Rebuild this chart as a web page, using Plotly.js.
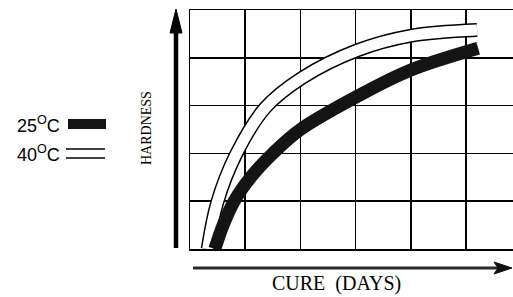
<!DOCTYPE html>
<html><head><meta charset="utf-8">
<script src="https://cdn.plot.ly/plotly-3.0.1.min.js"></script>
<style>html,body{margin:0;padding:0;background:#fff}#chart{width:513px;height:297px}</style>
</head><body><div id="chart"></div>
<script>
// Data (x = cure in grid units, y = hardness in grid units)
const cureDays40 = [0.32, 0.49, 0.83, 1.36, 2.03, 3.04, 3.99, 5.20];
const hardness40 = [0.00, 0.96, 1.97, 2.95, 3.58, 4.16, 4.46, 4.58];
const cureDays25 = [0.45, 0.60, 0.80, 1.10, 1.50, 2.00, 3.04, 3.99, 5.22];
const hardness25 = [0.00, 0.50, 1.00, 1.50, 2.00, 2.50, 3.20, 3.74, 4.20];
const seriesNames = ['25<sup>O</sup>C', '40<sup>O</sup>C'];
const xTitle = 'CURE\u00A0 (DAYS)';
const yTitle = 'HARDNESS';

// layout helpers (pixel -> paper)
const L = 190, T = 10, W = 323, H = 239;
const px = p => (p - L) / W;
const py = p => (T + H - p) / H;
const pth = pts => 'M' + pts.map(p => px(p[0]) + ',' + py(p[1])).join(' L') + ' Z';

const traces = [
  {x: cureDays40, y: hardness40, mode: 'lines', line: {color: '#000', width: 14, shape: 'spline', smoothing: 1}, hoverinfo: 'skip', showlegend: false},
  {x: cureDays40, y: hardness40, mode: 'lines', line: {color: '#fff', width: 11, shape: 'spline', smoothing: 1}, name: '40°C', showlegend: false},
  {x: cureDays25, y: hardness25, mode: 'lines', line: {color: '#141414', width: 13, shape: 'spline', smoothing: 1}, name: '25°C', showlegend: false}
];

const serif = 'Liberation Serif, Times New Roman, serif';
const layout = {
  width: 513, height: 297,
  margin: {l: L, r: 0, t: T, b: 297 - T - H},
  paper_bgcolor: '#fff', plot_bgcolor: '#fff',
  showlegend: false,
  xaxis: {range: [0, W / 55.2], dtick: 1, tick0: 0, showticklabels: false, ticks: '',
          showgrid: true, gridcolor: '#000', gridwidth: 1.5, zeroline: false,
          showline: true, linecolor: '#000', linewidth: 1.5, mirror: true, fixedrange: true},
  yaxis: {range: [0, 5], dtick: 1, tick0: 0, showticklabels: false, ticks: '',
          showgrid: true, gridcolor: '#000', gridwidth: 1.5, zeroline: false,
          showline: true, linecolor: '#000', linewidth: 1.5, mirror: false, fixedrange: true},
  annotations: [
    {xref: 'paper', yref: 'paper', x: px(336), y: py(283), xanchor: 'center', yanchor: 'middle', showarrow: false,
     text: xTitle, font: {family: serif, size: 20, color: '#000'}},
    {xref: 'paper', yref: 'paper', x: px(147), y: py(128), xanchor: 'center', yanchor: 'middle', showarrow: false,
     text: yTitle, textangle: -90, font: {family: serif, size: 14, color: '#000'}},
    {xref: 'paper', yref: 'paper', x: px(62), y: py(124), xanchor: 'right', yanchor: 'middle', showarrow: false,
     text: seriesNames[0], font: {family: 'Liberation Sans', size: 18, color: '#000'}},
    {xref: 'paper', yref: 'paper', x: px(62), y: py(153), xanchor: 'right', yanchor: 'middle', showarrow: false,
     text: seriesNames[1], font: {family: 'Liberation Sans', size: 18, color: '#000'}}
  ],
  shapes: [
    // vertical axis arrow
    {type: 'line', xref: 'paper', yref: 'paper', x0: px(176), x1: px(176), y0: py(248), y1: py(28),
     line: {color: '#000', width: 4.5}},
    {type: 'path', xref: 'paper', yref: 'paper', path: pth([[170, 33], [176, 9], [182, 33]]),
     fillcolor: '#000', line: {color: '#000', width: 1}},
    // horizontal axis arrow
    {type: 'line', xref: 'paper', yref: 'paper', x0: px(193), x1: px(498), y0: py(268), y1: py(268),
     line: {color: '#2a2a2a', width: 3}},
    {type: 'path', xref: 'paper', yref: 'paper', path: pth([[494, 262], [512, 268], [494, 274], [498, 268]]),
     fillcolor: '#111', line: {color: '#111', width: 1}},
    // legend keys
    {type: 'rect', xref: 'paper', yref: 'paper', x0: px(68), x1: px(106), y0: py(129), y1: py(119),
     fillcolor: '#141414', line: {width: 0}},
    {type: 'line', xref: 'paper', yref: 'paper', x0: px(66), x1: px(105), y0: py(149), y1: py(149),
     line: {color: '#000', width: 1.5}},
    {type: 'line', xref: 'paper', yref: 'paper', x0: px(66), x1: px(105), y0: py(158), y1: py(158),
     line: {color: '#000', width: 1.5}}
  ]
};

Plotly.newPlot('chart', traces, layout, {staticPlot: true, displayModeBar: false});
</script>
</body></html>
